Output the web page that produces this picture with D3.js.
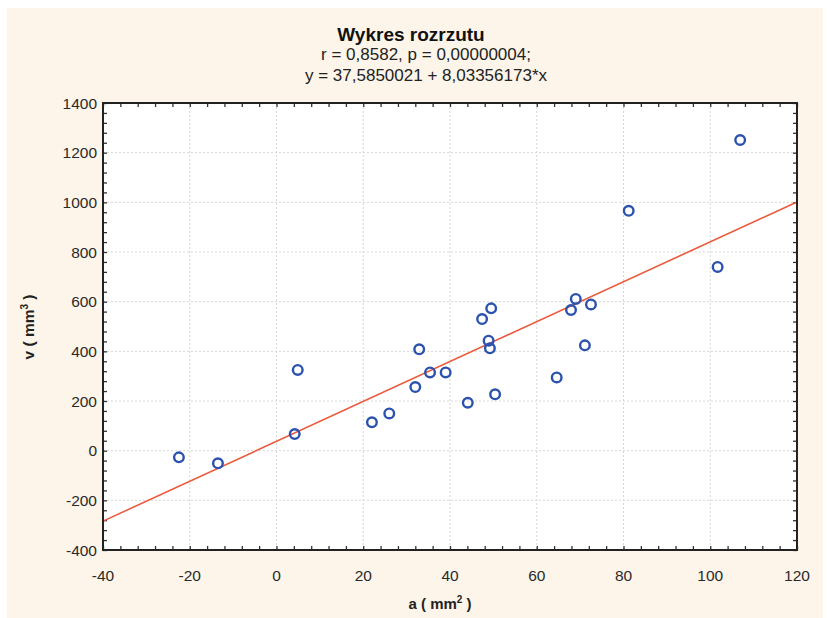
<!DOCTYPE html>
<html>
<head>
<meta charset="utf-8">
<script src="https://cdn.jsdelivr.net/npm/d3@7"></script>
<style>
  body { margin: 0; background: #fff; }
  text { font-family: "Liberation Sans", Arial, sans-serif; }
</style>
</head>
<body>
<div id="chart"></div>
<script>
// data
var aValues = [-22.5, -13.5, 4.2, 4.9, 22.0, 26.0, 32.0, 32.9, 35.4, 39.0, 44.1, 47.4, 49.5, 48.9, 49.2, 50.4, 64.6, 67.9, 69.0, 71.1, 72.5, 81.2, 101.7, 106.9]
var vValues = [-27, -51, 67, 325, 114, 150, 256, 408, 315, 315, 193, 530, 573, 443, 412, 227, 295, 566, 611, 424, 589, 966, 740, 1251]
var xTicks = [-40, -20, 0, 20, 40, 60, 80, 100, 120]
var yTicks = [-400, -200, 0, 200, 400, 600, 800, 1000, 1200, 1400]
var intercept = 37.5850021, slope = 8.03356173
var titleLines = ["r = 0,8582, p = 0,00000004;", "y = 37,5850021 + 8,03356173*x"]

var W = 827, H = 618
var margin = { left: 103, right: 30, top: 103, bottom: 68 }
var width = W - margin.left - margin.right,
    height = H - margin.top - margin.bottom

var svg = d3.select("#chart").append("svg")
    .attr("width", W)
    .attr("height", H)

// cream panel
svg.append("rect")
    .attr("x", 7).attr("y", 8)
    .attr("width", 816).attr("height", 610)
    .attr("fill", "#fdf5e9")

var x = d3.scaleLinear().domain([-40, 120]).range([0, width])
var y = d3.scaleLinear().domain([-400, 1400]).range([height, 0])

var g = svg.append("g")
    .attr("transform", "translate(" + margin.left + "," + margin.top + ")")

g.append("rect")
    .attr("width", width).attr("height", height)
    .attr("fill", "#fff")

// grid
g.selectAll(".vgrid")
    .data(xTicks.slice(1, -1))
    .enter().append("line")
    .attr("x1", d => x(d)).attr("x2", d => x(d))
    .attr("y1", 0).attr("y2", height)
    .attr("stroke", "#d6d6d6").attr("stroke-dasharray", "2,2")

g.selectAll(".hgrid")
    .data(yTicks.slice(1, -1))
    .enter().append("line")
    .attr("y1", d => y(d)).attr("y2", d => y(d))
    .attr("x1", 0).attr("x2", width)
    .attr("stroke", "#d6d6d6").attr("stroke-dasharray", "2,2")

// minor + major ticks, inward on all four sides
var xMinor = d3.range(-40, 120.1, 4)
var yMinor = d3.range(-400, 1400.1, 40)

function tickAxis(axis, ticks) {
    return axis.tickValues(ticks).tickSize(-4).tickFormat("")
}

g.append("g").attr("class", "ticks")
    .attr("transform", "translate(0," + height + ")")
    .call(tickAxis(d3.axisBottom(x), xMinor))
g.append("g").attr("class", "ticks")
    .call(tickAxis(d3.axisTop(x), xMinor))
g.append("g").attr("class", "ticks")
    .call(tickAxis(d3.axisLeft(y), yMinor))
g.append("g").attr("class", "ticks")
    .attr("transform", "translate(" + width + ",0)")
    .call(tickAxis(d3.axisRight(y), yMinor))

g.selectAll(".ticks .domain").remove()
g.selectAll(".ticks line").attr("stroke", "#333").attr("stroke-width", 1.3)

// regression line
g.append("line")
    .attr("x1", x(-40)).attr("y1", y(intercept + slope * -40))
    .attr("x2", x(120)).attr("y2", y(intercept + slope * 120))
    .attr("stroke", "#ec5a3c")
    .attr("stroke-width", 1.6)

// points
g.selectAll(".pt")
    .data(aValues.map((d, i) => [d, vValues[i]]))
    .enter().append("circle")
    .attr("cx", d => x(d[0]))
    .attr("cy", d => y(d[1]))
    .attr("r", 4.8)
    .attr("fill", "none")
    .attr("stroke", "#2b52ad")
    .attr("stroke-width", 2.4)

// frame
g.append("rect")
    .attr("width", width).attr("height", height)
    .attr("fill", "none")
    .attr("stroke", "#222")
    .attr("stroke-width", 2)

// tick labels
g.selectAll(".xlab")
    .data(xTicks)
    .enter().append("text")
    .attr("x", d => x(d))
    .attr("y", height + 31)
    .attr("text-anchor", "middle")
    .attr("font-size", 15.5)
    .attr("fill", "#2a2a2a")
    .text(d => d)

g.selectAll(".ylab")
    .data(yTicks)
    .enter().append("text")
    .attr("x", -6)
    .attr("y", d => y(d))
    .attr("dy", "0.36em")
    .attr("text-anchor", "end")
    .attr("font-size", 15.5)
    .attr("fill", "#2a2a2a")
    .text(d => d)

// titles
svg.append("text")
    .attr("x", 411).attr("y", 41)
    .attr("text-anchor", "middle")
    .attr("font-size", 19)
    .attr("font-weight", "bold")
    .attr("fill", "#111")
    .text("Wykres rozrzutu")

svg.selectAll(".sub")
    .data(titleLines)
    .enter().append("text")
    .attr("x", 426)
    .attr("y", (d, i) => 60 + i * 21)
    .attr("text-anchor", "middle")
    .attr("font-size", 17)
    .attr("fill", "#222")
    .text(d => d)

// axis titles
var xt = svg.append("text")
    .attr("x", 440).attr("y", 609)
    .attr("text-anchor", "middle")
    .attr("font-size", 15)
    .attr("font-weight", "bold")
    .attr("fill", "#222")
xt.append("tspan").text("a ( mm")
xt.append("tspan").attr("dy", -6).attr("font-size", 10).text("2")
xt.append("tspan").attr("dy", 6).text(" )")

var yt = svg.append("text")
    .attr("transform", "translate(34,327) rotate(-90)")
    .attr("text-anchor", "middle")
    .attr("font-size", 15.5)
    .attr("font-weight", "bold")
    .attr("fill", "#222")
yt.append("tspan").text("v ( mm")
yt.append("tspan").attr("dy", -6).attr("font-size", 10).text("3")
yt.append("tspan").attr("dy", 6).text(" )")
</script>
</body>
</html>
